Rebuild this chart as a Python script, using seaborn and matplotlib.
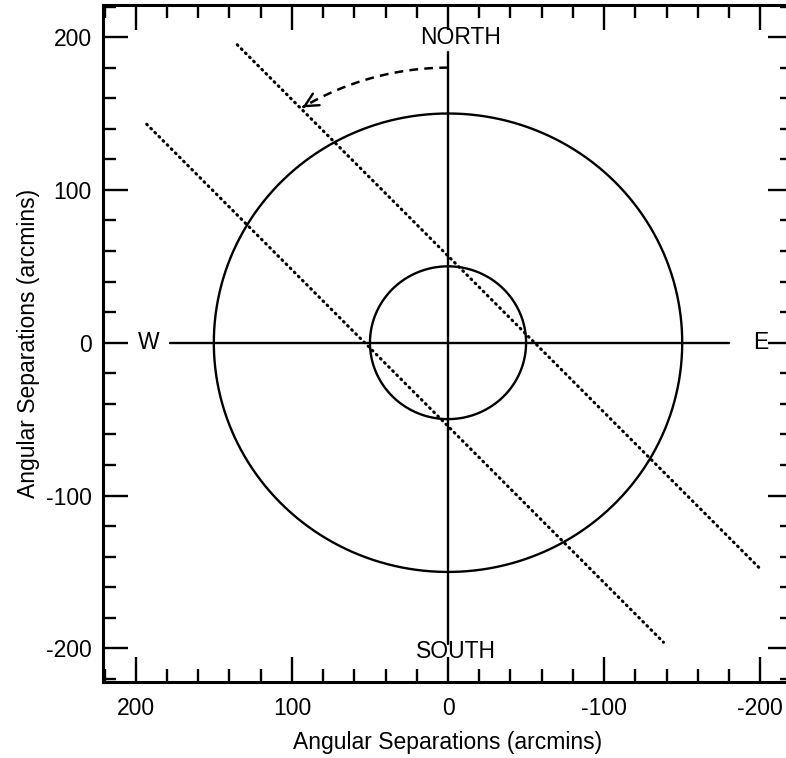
import numpy as np
import pandas as pd
import matplotlib
matplotlib.use("Agg")
import matplotlib.pyplot as plt
import seaborn as sns

# ---- data ----
circle_radii = [50, 150]
arc_radius = 180
arc_start_deg = 90.0
arc_end_deg = 58.8
axis_line_x = [178, -180]          # horizontal W-E line (y = 0)
axis_line_y = [-197, 190]          # vertical N-S line (x = 0)
dotted1_x = [135, -200]
dotted1_y = [195, -148]
dotted2_x = [193, -138]
dotted2_y = [143, -196]
dir_labels = ["NORTH", "SOUTH", "W", "E"]
dir_x = [-8, -5, 192, -200]
dir_y = [200, -202, 0, 0]
major_ticks = [200, 100, 0, -100, -200]
xlim = (221, -221)
ylim = (-222, 221)

sns.set_theme(style="ticks")
plt.rcParams['font.family'] = ['Liberation Sans', 'DejaVu Sans']
plt.rcParams['axes.unicode_minus'] = False
plt.rcParams['text.color'] = 'black'
plt.rcParams['axes.labelcolor'] = 'black'
plt.rcParams['xtick.color'] = 'black'
plt.rcParams['ytick.color'] = 'black'

fig = plt.figure(figsize=(7.86, 7.58), dpi=100)
ax = fig.add_axes([0.131, 0.1003, 0.878, 0.8931])

# circles
theta = np.linspace(0, 2 * np.pi, 400)
for r in circle_radii:
    df = pd.DataFrame({"x": r * np.cos(theta), "y": r * np.sin(theta)})
    sns.lineplot(data=df, x="x", y="y", sort=False, estimator=None, ax=ax,
                 color="black", lw=1.7)

# cross lines
sns.lineplot(x=axis_line_x, y=[0, 0], sort=False, estimator=None, ax=ax, color="black", lw=1.7)
sns.lineplot(x=[0, 0], y=axis_line_y, sort=False, estimator=None, ax=ax, color="black", lw=1.7)

# dotted lines
for xs, ys in [(dotted1_x, dotted1_y), (dotted2_x, dotted2_y)]:
    sns.lineplot(x=xs, y=ys, sort=False, estimator=None, ax=ax, color="black",
                 lw=2.2, linestyle=(0, (0.3, 1.6)), dash_capstyle="round")

# dashed arc with arrow
ang = np.deg2rad(np.linspace(arc_start_deg, arc_end_deg, 100))
arc = pd.DataFrame({"x": arc_radius * np.cos(ang), "y": arc_radius * np.sin(ang)})
sns.lineplot(data=arc, x="x", y="y", sort=False, estimator=None, ax=ax,
             color="black", lw=1.8, linestyle=(0, (3.5, 2.5)))
ax.annotate("", xy=(arc["x"].iloc[-1], arc["y"].iloc[-1]),
            xytext=(arc["x"].iloc[-4], arc["y"].iloc[-4]),
            arrowprops=dict(arrowstyle="->", color="black", lw=1.7, mutation_scale=24))

# direction labels
for t, x, y in zip(dir_labels, dir_x, dir_y):
    ax.text(x, y, t, ha="center", va="center", fontsize=16.5, color="black")

ax.set_xlim(*xlim)
ax.set_ylim(*ylim)
ax.set_xticks(major_ticks)
ax.set_yticks(major_ticks)
ax.set_xticks(np.arange(-220, 221, 20), minor=True)
ax.set_yticks(np.arange(-220, 221, 20), minor=True)
ax.tick_params(which="both", direction="in", top=True, right=True, color="black", width=1.7)
ax.tick_params(which="major", length=18, labelsize=16.5, pad=8, labelcolor="black")
ax.tick_params(which="minor", length=9.5)
ax.tick_params(axis="x", which="major", pad=11)
for s in ax.spines.values():
    s.set_linewidth(2.2)
    s.set_color("black")
ax.set_xlabel("Angular Separations (arcmins)", fontsize=16.5, labelpad=8, color="black")
ax.set_ylabel("Angular Separations (arcmins)", fontsize=16.5, labelpad=4, color="black")

fig.savefig("out.png", dpi=100)
